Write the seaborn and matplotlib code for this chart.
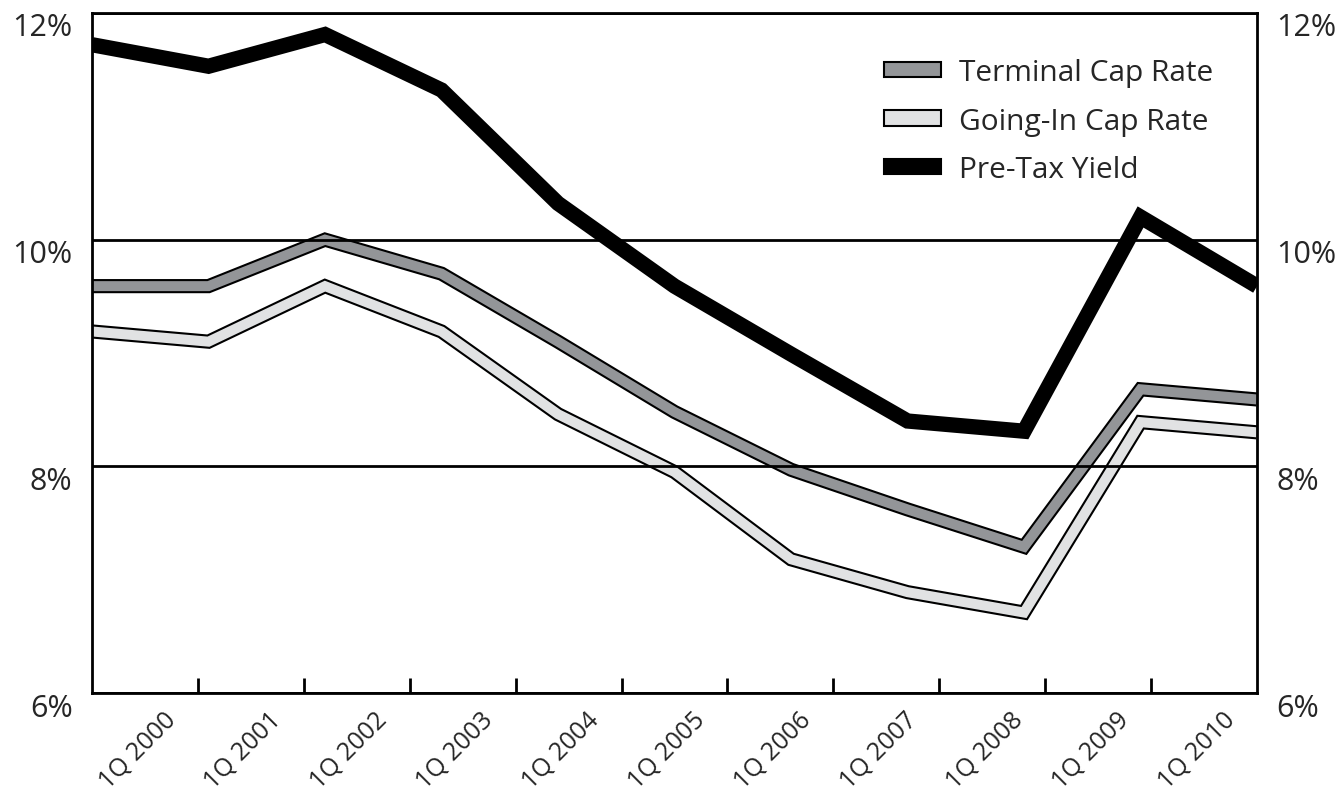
import numpy as np
import pandas as pd
import matplotlib
matplotlib.use("Agg")
import matplotlib.pyplot as plt
import matplotlib.patheffects as pe
import matplotlib.transforms as mtrans
from matplotlib.patches import Patch
from matplotlib.ticker import FixedLocator, FuncFormatter
import seaborn as sns

# ---- data ----
quarters = ["1Q 2000", "1Q 2001", "1Q 2002", "1Q 2003", "1Q 2004", "1Q 2005",
            "1Q 2006", "1Q 2007", "1Q 2008", "1Q 2009", "1Q 2010"]
terminal_cap = [9.59, 9.59, 10.00, 9.70, 9.10, 8.48, 7.97, 7.62, 7.29, 8.68, 8.59]
going_in_cap = [9.19, 9.10, 9.59, 9.19, 8.46, 7.95, 7.18, 6.89, 6.71, 8.39, 8.30]
pre_tax_yield = [11.72, 11.53, 11.81, 11.32, 10.32, 9.59, 8.99, 8.40, 8.31, 10.20, 9.59]
y_ticks = [6, 8, 10, 12]

sns.set_theme(style="white")
plt.rcParams["font.family"] = ["Open Sans", "DejaVu Sans"]

df = pd.DataFrame({
    "idx": np.arange(len(quarters)),
    "Terminal Cap Rate": terminal_cap,
    "Going-In Cap Rate": going_in_cap,
    "Pre-Tax Yield": pre_tax_yield,
})

fig = plt.figure(figsize=(13.41, 8.03), dpi=100)
ax = fig.add_axes([0.0686, 0.1357, 0.9374 - 0.0686, 0.9826 - 0.1357])

n = len(quarters)

sns.lineplot(data=df, x="idx", y="Terminal Cap Rate", ax=ax, color="#939598", lw=7.2,
             path_effects=[pe.Stroke(linewidth=10.2, foreground="black"), pe.Normal()],
             solid_joinstyle="miter", solid_capstyle="butt")
sns.lineplot(data=df, x="idx", y="Going-In Cap Rate", ax=ax, color="#e1e2e3", lw=7.2,
             path_effects=[pe.Stroke(linewidth=10.2, foreground="black"), pe.Normal()],
             solid_joinstyle="miter", solid_capstyle="butt")
sns.lineplot(data=df, x="idx", y="Pre-Tax Yield", ax=ax, color="black", lw=11,
             solid_joinstyle="miter", solid_capstyle="butt")

ax.set_xlim(0, n - 1)
ax.set_ylim(6, 12)
ax.set_xlabel("")
ax.set_ylabel("")

# category boundaries (tick marks) and centers (labels)
span = n - 1
bounds = [span * j / n for j in range(1, n)]
centers = [span * (j + 0.5) / n for j in range(n)]
ax.xaxis.set_minor_locator(FixedLocator(bounds))
ax.set_xticks(centers)
ax.set_xticklabels(quarters, rotation=45, ha="right", va="center",
                   rotation_mode="anchor", fontsize=18)
ax.tick_params(axis="x", which="major", length=0, pad=16)
ax.tick_params(axis="x", which="minor", direction="in", length=11, width=2,
               color="black", bottom=True)
xoff = mtrans.ScaledTranslation(27 / 100, 0, fig.dpi_scale_trans)
for lab in ax.get_xticklabels():
    lab.set_transform(lab.get_transform() + xoff)

ax.set_yticks(y_ticks)
ax.yaxis.set_major_formatter(FuncFormatter(lambda v, p: f"{v:.0f}%"))
ax.tick_params(axis="y", length=0, labelsize=22, pad=14, labelright=True, right=False)

offset = mtrans.ScaledTranslation(0, -11 / 100, fig.dpi_scale_trans)
for t in ax.yaxis.get_major_ticks():
    t.label1.set_transform(t.label1.get_transform() + offset)
    t.label2.set_transform(t.label2.get_transform() + offset)

ax.grid(axis="y", color="black", lw=2)
ax.grid(axis="x", visible=False)
ax.set_axisbelow(False)

for s in ax.spines.values():
    s.set_color("black")
    s.set_linewidth(2)
    s.set_visible(True)

handles = [
    Patch(facecolor="#939598", edgecolor="black", lw=1.5, label="Terminal Cap Rate"),
    Patch(facecolor="#e1e2e3", edgecolor="black", lw=1.5, label="Going-In Cap Rate"),
    Patch(facecolor="black", edgecolor="black", lw=1.5, label="Pre-Tax Yield"),
]
ax.legend(handles=handles, loc="upper left",
          bbox_to_anchor=((884 - 92) / 1165, 1 - (59 - 14) / 680),
          frameon=False, fontsize=21.5, handlelength=1.9, handleheight=0.4,
          labelspacing=0.66, handletextpad=0.6, borderpad=0, borderaxespad=0)

fig.savefig("out.png", dpi=100)
